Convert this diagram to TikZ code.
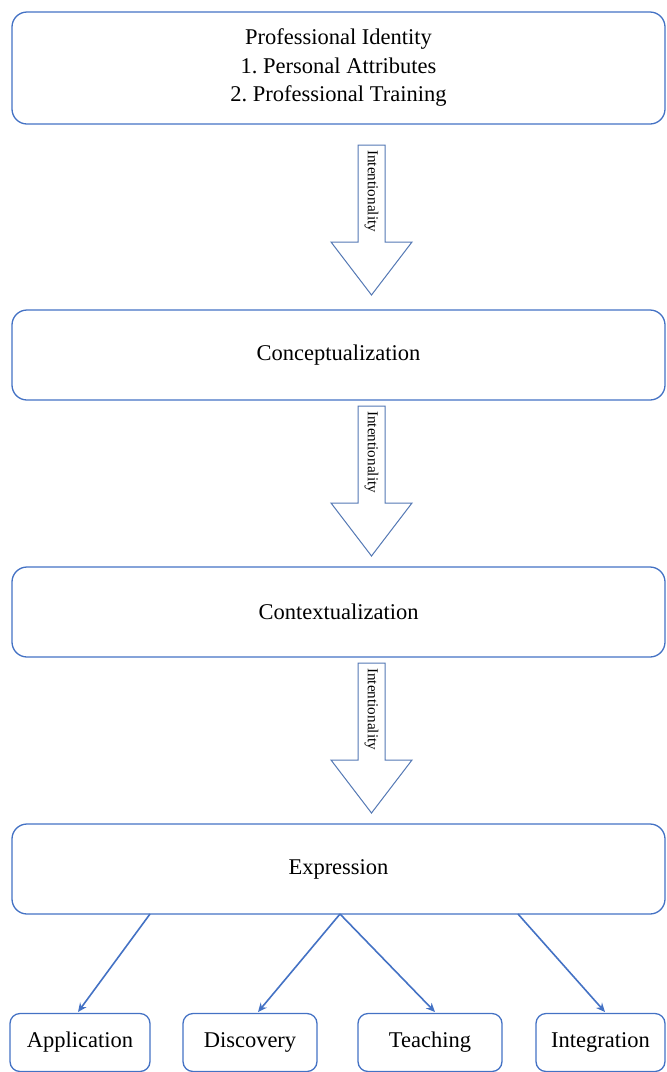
\documentclass[tikz,border=0pt]{standalone}
\usepackage{fontspec}
\setmainfont{Liberation Serif}
\usetikzlibrary{arrows.meta}
\definecolor{boxblue}{RGB}{68,114,196}
\definecolor{arrblue}{RGB}{84,120,180}
\begin{document}
\frenchspacing
\begin{tikzpicture}[x=1pt,y=-1pt,
  bigbox/.style={draw=boxblue,line width=1.3pt,rounded corners=15pt,minimum width=653pt,minimum height=90pt,align=center,font=\fontsize{22.5}{28.5}\selectfont,inner sep=0pt},
  smallbox/.style={draw=boxblue,line width=1.3pt,rounded corners=10pt,minimum height=58pt,font=\fontsize{22.5}{28.5}\selectfont,inner sep=0pt},
  blockarrow/.style={draw=arrblue,line width=1pt,fill=white,line join=miter},
  arrlabel/.style={rotate=-90,anchor=west,font=\fontsize{15.2}{18}\selectfont,inner sep=0pt},
  link/.style={draw=boxblue,line width=1.6pt,-{Stealth[length=9pt,width=8pt]}}]
\useasboundingbox (0,0) rectangle (667,1072);
\node[bigbox,minimum height=112pt] (ident) at (338.5,68) {Professional Identity\\1. Personal Attributes\\2. Professional Training};
\node[bigbox] (concept) at (338.5,355) {Conceptualization};
\node[bigbox] (context) at (338.5,612) {Contextualization};
\node[bigbox] (express) at (338.5,869) {Expression};
% block arrows
\foreach \t/\n in {145/a1,406/a2,663/a3}{
  \draw[blockarrow] (358,\t) -- (385,\t) -- (385,\t+97) -- (412,\t+97) -- (371.5,\t+150) -- (331,\t+97) -- (358,\t+97) -- cycle;
  \node[arrlabel] (\n) at (371.5,\t+5) {Intentionality};
}
% bottom boxes
\node[smallbox,minimum width=140pt] (app) at (80,1042.5) {Application};
\node[smallbox,minimum width=134pt] (disc) at (250,1042.5) {Discovery};
\node[smallbox,minimum width=144pt] (teach) at (430,1042.5) {Teaching};
\node[smallbox,minimum width=129pt] (integ) at (600.5,1042.5) {Integration};
\coordinate (e1) at (150,914);
\coordinate (e2) at (340,914);
\coordinate (e3) at (518,914);
\draw[link] (e1) -- (78,1012);
\draw[link] (e2) -- (258,1012);
\draw[link] (e2) -- (435,1012);
\draw[link] (e3) -- (605,1012);
\end{tikzpicture}
\end{document}
